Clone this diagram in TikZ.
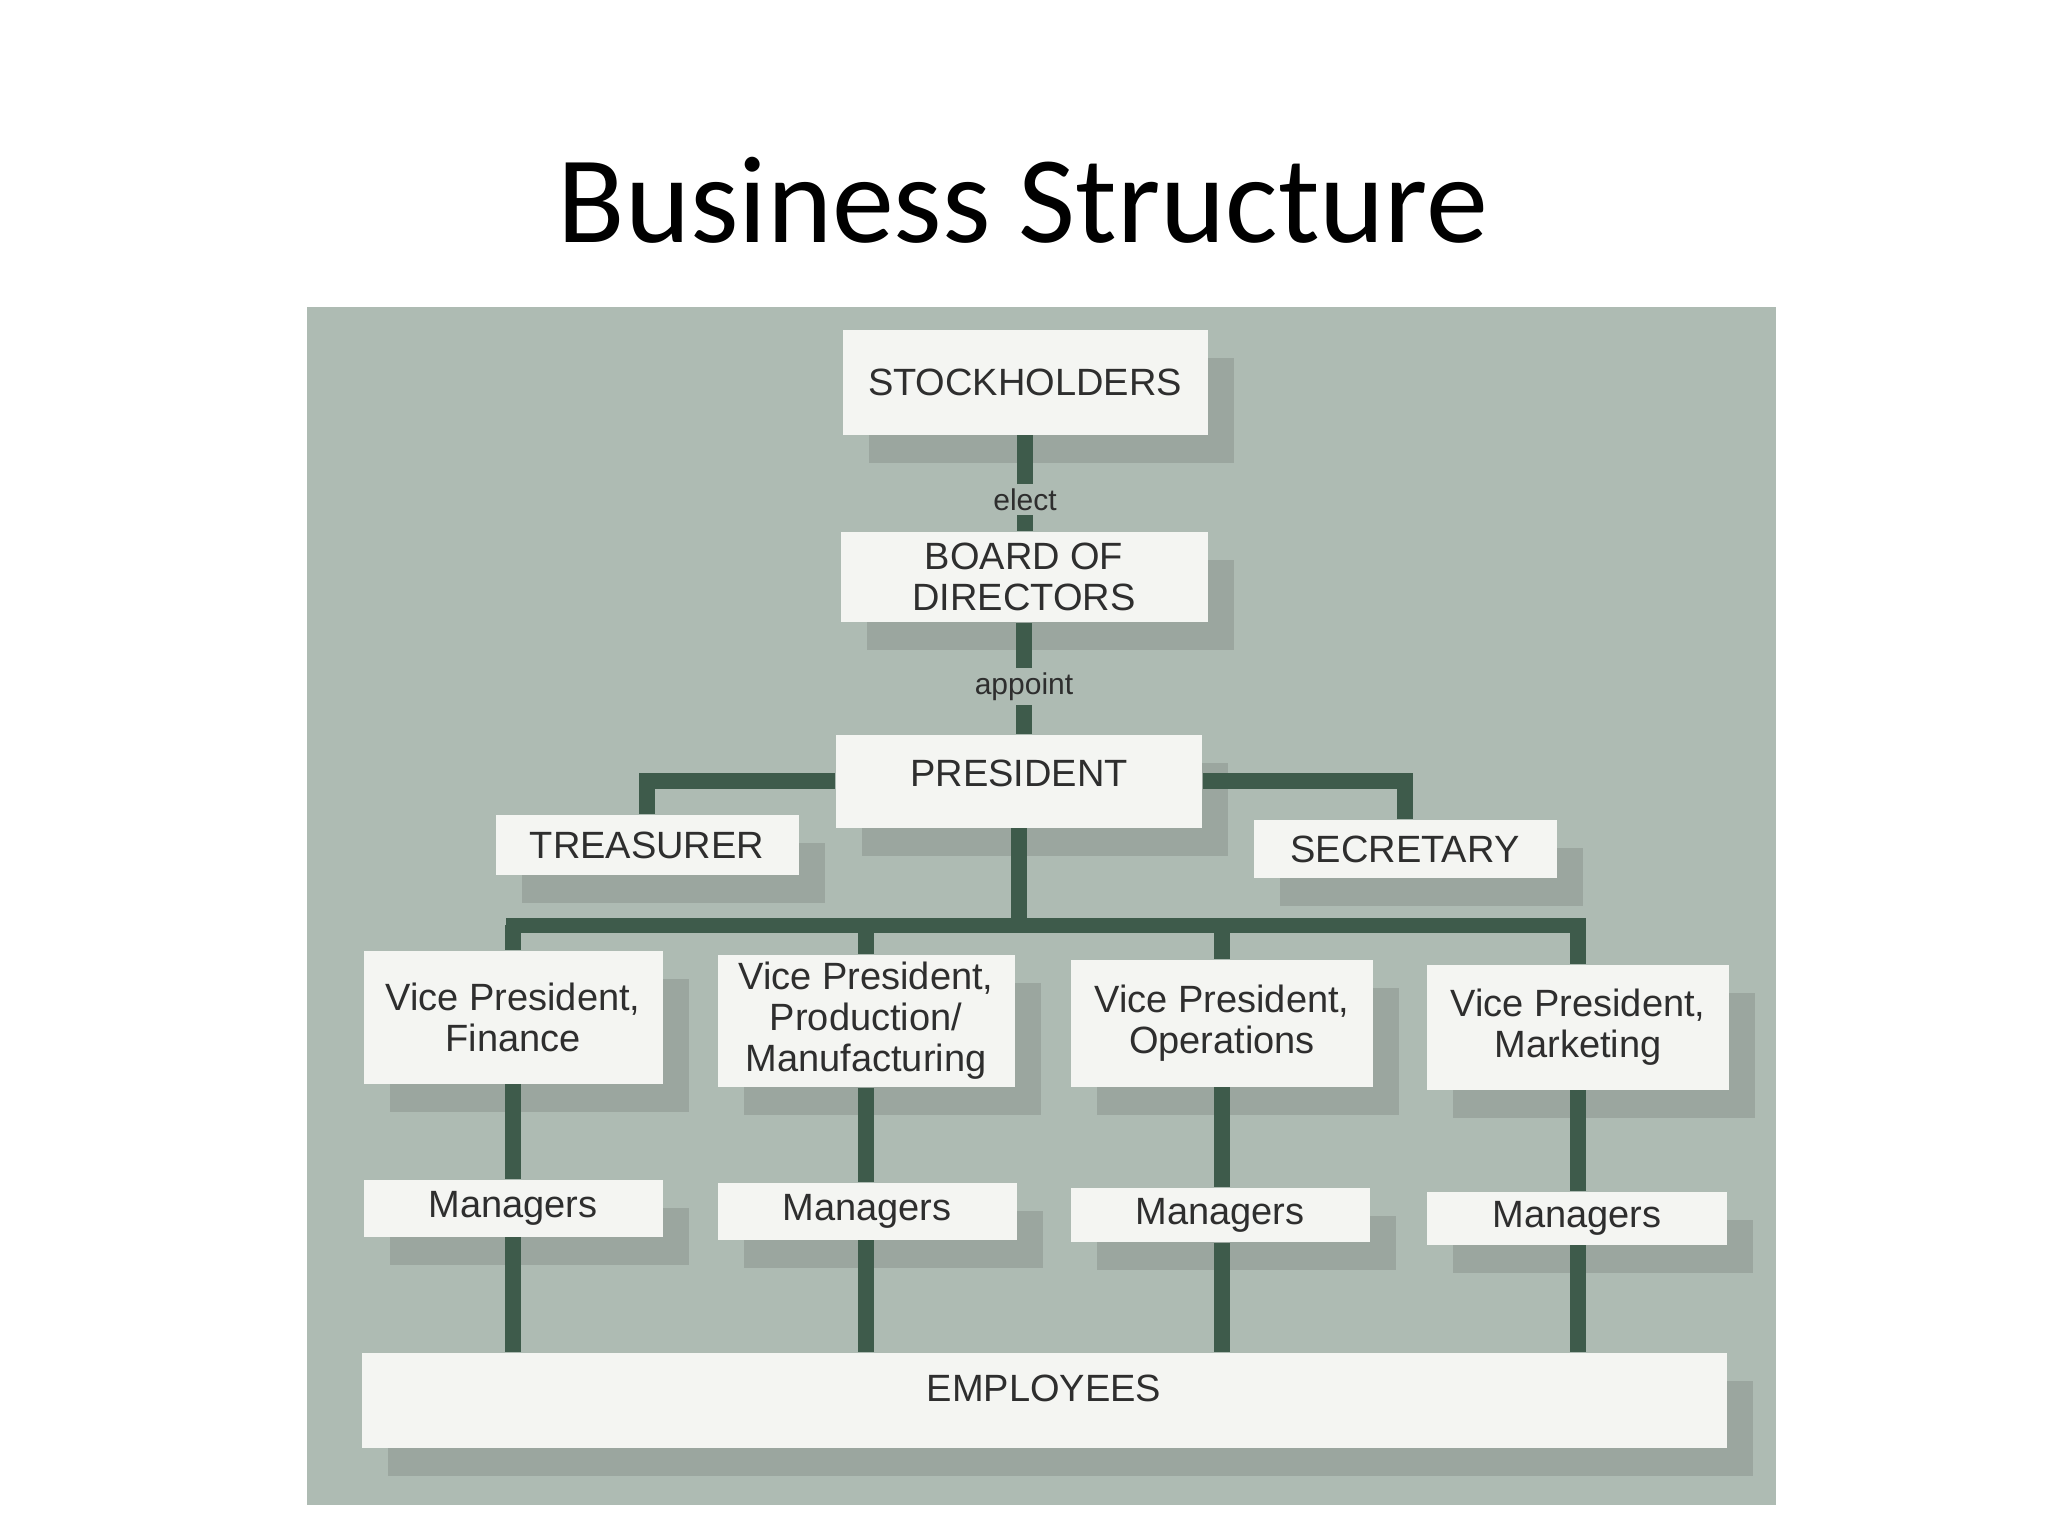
\documentclass[tikz,border=0pt]{standalone}
\usepackage{fontspec}
\setmainfont{Liberation Sans}
\newfontfamily\titlefont{Carlito}
\usetikzlibrary{shadows}
\definecolor{panelbg}{HTML}{AEBBB3}
\definecolor{shadowc}{HTML}{9BA69F}
\definecolor{linec}{HTML}{3E5B4B}
\definecolor{boxc}{HTML}{F4F5F2}
\definecolor{textc}{HTML}{2E2E2E}
\begin{document}
\begin{tikzpicture}[x=0.25pt,y=-0.25pt,
  box/.style={fill=boxc, draw=none, text=textc, align=center, inner sep=0pt,
    font=\fontsize{9.5}{10.25}\selectfont,
    drop shadow={shadow xshift=6.5pt, shadow yshift=-7pt, fill=shadowc, opacity=1}},
  conn/.style={draw=linec, line width=4pt},
  lbl/.style={fill=panelbg, text=textc, inner sep=1.2pt, font=\fontsize{7.5}{8}\selectfont}]
\useasboundingbox (0,0) rectangle (2048,1536);
\fill[white] (0,0) rectangle (2048,1536);
\node[font=\titlefont\fontsize{31}{37}\selectfont, anchor=base, inner sep=0pt] (title) at (1023,242) {Business Structure};
\node[fill=panelbg, inner sep=0pt, minimum width=367.25pt, minimum height=299.5pt] (panel) at (1041.5,906) {};

\node[box, minimum width=91.25pt, minimum height=26.25pt] (stock) at (1025,382) {STOCKHOLDERS};
\node[box, minimum width=91.75pt, minimum height=22.5pt] (board) at (1024,577) {BOARD OF\\DIRECTORS};
\node[box, minimum width=91.5pt, minimum height=23.25pt] (pres) at (1019,781) {\raisebox{4pt}{PRESIDENT}};
\node[box, minimum width=75.75pt, minimum height=15pt] (treas) at (647,845) {TREASURER};
\node[box, minimum width=75.75pt, minimum height=14.5pt] (sec) at (1405,849) {SECRETARY};

\node[box, minimum width=74.75pt, minimum height=33.25pt] (fin) at (513,1017) {Vice President,\\Finance};
\node[box, minimum width=74.25pt, minimum height=33pt] (prod) at (866,1021) {Vice President,\\Production/\\Manufacturing};
\node[box, minimum width=75.5pt, minimum height=31.75pt] (ops) at (1222,1023) {Vice President,\\Operations};
\node[box, minimum width=75.5pt, minimum height=31.25pt] (mkt) at (1578,1027) {Vice President,\\Marketing};

\node[box, minimum width=74.75pt, minimum height=14.25pt] (m1) at (513,1208) {Managers};
\node[box, minimum width=74.75pt, minimum height=14.25pt] (m2) at (867,1211) {Managers};
\node[box, minimum width=74.75pt, minimum height=13.5pt] (m3) at (1220,1215) {Managers};
\node[box, minimum width=75pt, minimum height=13.25pt] (m4) at (1577,1218) {Managers};

\node[box, minimum width=341.25pt, minimum height=23.75pt] (emp) at (1044,1400) {\raisebox{6pt}{EMPLOYEES}};

\coordinate (bus) at (1019,925);

\draw[conn] (stock.south) -- (stock.south |- board.north) node[lbl, pos=0.67] (elect) {elect};
\draw[conn] (board.south) -- (board.south |- pres.north) node[lbl, pos=0.575] (appoint) {appoint};
\draw[conn] (pres.west) -| (treas.north);
\draw[conn] (pres.east) -| (sec.north);
\draw[conn] (pres.south) -- (pres.south |- bus);
\draw[conn, line width=3.75pt, line cap=rect] (fin.north |- bus) -- (mkt.north |- bus);
\foreach \v/\m in {fin/m1, prod/m2, ops/m3, mkt/m4}{
  \draw[conn] (\v.north |- bus) -- (\v.north);
  \draw[conn] (\v.south) -- (\v.south |- \m.north);
  \draw[conn] (\v.south |- \m.south) -- (\v.south |- emp.north);
}
\end{tikzpicture}
\end{document}
